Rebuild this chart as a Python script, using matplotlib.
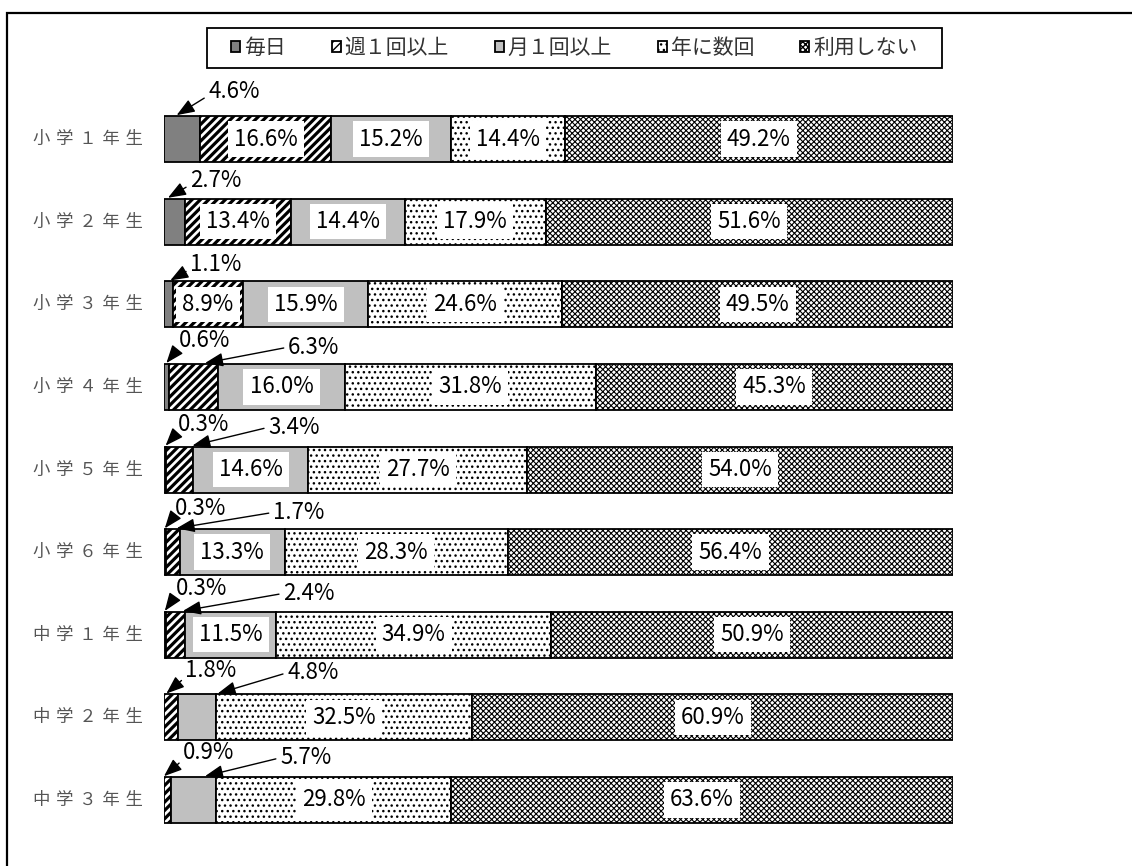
import matplotlib
matplotlib.use("Agg")
import matplotlib.pyplot as plt
from matplotlib import font_manager
from matplotlib.patches import Rectangle

# ---- data -------------------------------------------------------------
grades = ["小学１年生", "小学２年生", "小学３年生", "小学４年生", "小学５年生",
          "小学６年生", "中学１年生", "中学２年生", "中学３年生"]
categories = ["毎日", "週１回以上", "月１回以上", "年に数回", "利用しない"]

daily   = [4.6, 2.7, 1.1, 0.6, 0.3, 0.3, 0.3, 0.0, 0.0]
weekly  = [16.6, 13.4, 8.9, 6.3, 3.4, 1.7, 2.4, 1.8, 0.9]
monthly = [15.2, 14.4, 15.9, 16.0, 14.6, 13.3, 11.5, 4.8, 5.7]
yearly  = [14.4, 17.9, 24.6, 31.8, 27.7, 28.3, 34.9, 32.5, 29.8]
never   = [49.2, 51.6, 49.5, 45.3, 54.0, 56.4, 50.9, 60.9, 63.6]

series = [daily, weekly, monthly, yearly, never]

# ---- fonts ------------------------------------------------------------
JP = ["Noto Sans CJK JP", "DejaVu Sans"]


def has_font(name):
    try:
        font_manager.findfont(font_manager.FontProperties(family=name),
                              fallback_to_default=False)
        return True
    except Exception:
        return False


if has_font("Liberation Sans Narrow"):
    NUM_FONT, NUM_SIZE = ["Liberation Sans Narrow", "DejaVu Sans"], 17.5
else:
    NUM_FONT, NUM_SIZE = JP, 16

plt.rcParams["font.family"] = JP

# ---- figure / axes ----------------------------------------------------
W, H, DPI = 1132, 866, 100
fig = plt.figure(figsize=(W / DPI, H / DPI), dpi=DPI)
fig.patch.set_facecolor("white")

x0_px, x1_px = 164, 953
row0_px, row8_px = 139, 800
step = (row8_px - row0_px) / 8
top_px = row0_px - step / 2
bot_px = row8_px + step / 2
ax = fig.add_axes([x0_px / W, 1 - bot_px / H,
                   (x1_px - x0_px) / W, (bot_px - top_px) / H])
ax.set_xlim(0, 100)
ax.set_ylim(len(grades) - 0.5, -0.5)
ax.axis("off")
px_per_pct = (x1_px - x0_px) / 100

# outer frame
fig.patches.append(Rectangle((7 / W, -0.2), 1.2, 1.2 - 13 / H,
                             transform=fig.transFigure, fill=False,
                             edgecolor="black", linewidth=1.6))

bar_h = 46 / step

styles = [
    dict(facecolor="#808080", hatch=None, hlw=1.0),
    dict(facecolor="white", hatch="////", hlw=2.3),
    dict(facecolor="#c0c0c0", hatch=None, hlw=1.0),
    dict(facecolor="white", hatch="...", hlw=1.0),
    dict(facecolor="white", hatch="xxxxxx", hlw=0.8),
]

ypos = list(range(len(grades)))
left = [0.0] * len(grades)
handles = []
for k, (vals, st) in enumerate(zip(series, styles)):
    with plt.rc_context({"hatch.linewidth": st["hlw"], "hatch.color": "black"}):
        bars = ax.barh(ypos, vals, left=left, height=bar_h,
                       facecolor=st["facecolor"], edgecolor="black",
                       linewidth=1.3, hatch=st["hatch"], label=categories[k])
        for b in bars:
            if hasattr(b, "set_hatch_linewidth"):
                b.set_hatch_linewidth(st["hlw"])
    handles.append(bars)
    left = [l + v for l, v in zip(left, vals)]

# ---- value labels -------------------------------------------------------
# small shares get a callout: (row, series) -> (text x, text dy, arrow tip x, relpos)
callouts = {
    (0, 0): (5.6, -0.58, 1.6, (0.0, 0.3)),
    (1, 0): (3.3, -0.50, 0.5, (0.0, 0.3)),
    (2, 0): (3.3, -0.48, 0.8, (0.0, 0.3)),
    (3, 0): (1.9, -0.56, 0.3, (0.0, 0.2)),
    (3, 1): (15.7, -0.48, 5.2, (0.0, 0.5)),
    (4, 0): (1.8, -0.54, 0.2, (0.0, 0.2)),
    (4, 1): (13.2, -0.51, 3.6, (0.0, 0.5)),
    (5, 0): (1.4, -0.53, 0.1, (0.0, 0.2)),
    (5, 1): (13.8, -0.48, 1.6, (0.0, 0.5)),
    (6, 0): (1.5, -0.56, 0.1, (0.0, 0.2)),
    (6, 1): (15.1, -0.50, 2.4, (0.0, 0.5)),
    (7, 1): (2.7, -0.57, 0.3, (0.0, 0.2)),
    (7, 2): (15.6, -0.54, 6.8, (0.0, 0.5)),
    (8, 1): (2.4, -0.57, 0.0, (0.0, 0.2)),
    (8, 2): (14.7, -0.51, 5.2, (0.0, 0.5)),
}

for i in range(len(grades)):
    start = 0.0
    for k, vals in enumerate(series):
        v = vals[i]
        if v > 0:
            txt = f"{v:.1f}%"
            if (i, k) in callouts:
                tx, dy, tipx, rp = callouts[(i, k)]
                ax.annotate(txt, xy=(tipx, i - bar_h / 2 - 0.01),
                            xytext=(tx, i + dy), ha="left", va="center",
                            fontsize=NUM_SIZE, family=NUM_FONT, color="black",
                            arrowprops=dict(arrowstyle="-|>,head_length=1.1,head_width=0.42",
                                            mutation_scale=10, color="black",
                                            lw=1.0, shrinkA=1, shrinkB=0,
                                            relpos=rp))
            else:
                ax.text(start + v / 2, i, txt, ha="center", va="center",
                        fontsize=NUM_SIZE, family=NUM_FONT, color="black",
                        bbox=dict(facecolor="white", edgecolor="none",
                                  boxstyle="square,pad=0.28"))
        start += v

# ---- row labels -------------------------------------------------------
for i, g in enumerate(grades):
    ax.text(-21.5 / px_per_pct, i, "\u2004".join(g), ha="right", va="center",
            fontsize=12.5, color="#555555", family=JP)

# ---- legend -------------------------------------------------------------
lx0, lx1, ly0, ly1 = 207, 942, 28, 68
fig.patches.append(Rectangle((lx0 / W, 1 - ly1 / H), (lx1 - lx0) / W,
                             (ly1 - ly0) / H, transform=fig.transFigure,
                             facecolor="white", edgecolor="black",
                             linewidth=1.3, zorder=1))
leg = fig.legend(handles=handles, labels=categories, ncol=5,
                 loc="center",
                 bbox_to_anchor=((lx0 + lx1) / 2 / W, 1 - (ly0 + ly1) / 2 / H),
                 frameon=False, handlelength=0.42, handleheight=0.42,
                 handletextpad=0.2, columnspacing=2.2, borderpad=0.0,
                 borderaxespad=0.0, prop={"family": JP, "size": 15})
leg.set_zorder(3)
for t in leg.get_texts():
    t.set_color("#333333")

fig.savefig("out.png", dpi=DPI, facecolor="white")
